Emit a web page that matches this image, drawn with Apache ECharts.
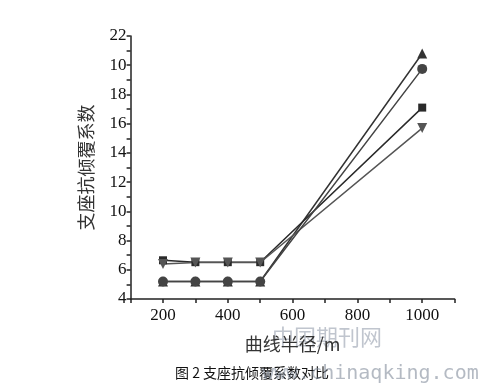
<!DOCTYPE html>
<html><head><meta charset="utf-8">
<script src="https://cdn.jsdelivr.net/npm/echarts@6/dist/echarts.min.js"></script>
<style>html,body{margin:0;padding:0;background:#fff}#c{width:492px;height:390px}</style>
</head><body><div id="c"></div>
<script>
const radii = [200, 300, 400, 500, 1000];
const seriesTriUp = [5.2, 5.2, 5.2, 5.2, 20.8];
const seriesCircle = [5.2, 5.2, 5.2, 5.2, 19.75];
const seriesSquare = [6.65, 6.52, 6.52, 6.52, 17.1];
const seriesTriDown = [6.4, 6.5, 6.5, 6.5, 15.7];
const yTickValues = [4, 6, 8, 10, 12, 14, 16, 18, 20, 22];
const yTickLabels = ['4', '6', '8', '10', '12', '14', '16', '18', '10', '22'];
const xTickLabels = [200, 400, 600, 800, 1000];

const chart = echarts.init(document.getElementById('c'), null, {renderer: 'canvas'});
const serifFont = 'Liberation Serif';
function mk(name, data, symbol, rotate, color) {
  return {
    name, type: 'line', data: radii.map((r, i) => [r, data[i]]),
    symbol, symbolSize: symbol === 'rect' ? 8 : 10, symbolRotate: rotate,
    lineStyle: {color: color, width: 1.5},
    itemStyle: {color: color},
    animation: false
  };
}
chart.setOption({
  animation: false,
  grid: {left: 130.6, right: 37.4, top: 36, bottom: 91},
  xAxis: {
    type: 'value', min: 100, max: 1100, interval: 100,
    axisLine: {lineStyle: {color: '#222', width: 1.5}},
    axisTick: {show: true, length: 4, lineStyle: {color: '#222', width: 1.5}},
    splitLine: {show: false},
    axisLabel: {
      fontFamily: serifFont, fontSize: 17, color: '#111', margin: 8,
      formatter: v => xTickLabels.includes(v) ? String(v) : ''
    },
    name: '曲线半径/m', nameLocation: 'middle', nameGap: 36,
    nameTextStyle: {fontFamily: 'Noto Sans CJK SC', fontSize: 18, color: '#333'}
  },
  yAxis: {
    type: 'value', min: 4, max: 22, interval: 2,
    axisLine: {show: true, lineStyle: {color: '#222', width: 1.5}},
    axisTick: {show: true, length: 4, lineStyle: {color: '#222', width: 1.5}},
    minorTick: {show: true, splitNumber: 2, length: 4, lineStyle: {color: '#222', width: 1.5}},
    splitLine: {show: false},
    axisLabel: {
      fontFamily: serifFont, fontSize: 17, color: '#111', margin: 4,
      formatter: v => { const i = yTickValues.indexOf(v); return i >= 0 ? yTickLabels[i] : ''; }
    },
    name: '支座抗倾覆系数', nameLocation: 'middle', nameGap: 35, nameRotate: 90,
    nameTextStyle: {fontFamily: 'Noto Sans CJK SC', fontSize: 18, color: '#333'}
  },
  series: [
    mk('tri', seriesTriUp, 'triangle', 0, '#333'),
    mk('square', seriesSquare, 'rect', 0, '#2a2a2a'),
    mk('tridown', seriesTriDown, 'triangle', 180, '#555'),
    mk('circle', seriesCircle, 'circle', 0, '#444')
  ],
  graphic: [
    {type: 'text', left: 272, top: 326, silent: true,
     style: {text: '中国期刊网', font: '22px "Noto Sans CJK SC"', fill: 'rgba(140,150,165,0.55)'}},
    {type: 'text', left: 175, top: 366, silent: true,
     style: {text: '图 2 支座抗倾覆系数对比', font: '14px "Noto Sans CJK SC"', fill: '#111'}},
    {type: 'text', left: 262, top: 364, silent: true,
     style: {text: 'www.chinaqking.com', font: '20px "DejaVu Sans Mono"', fill: 'rgba(130,140,155,0.6)'}}
  ]
});
</script></body></html>
